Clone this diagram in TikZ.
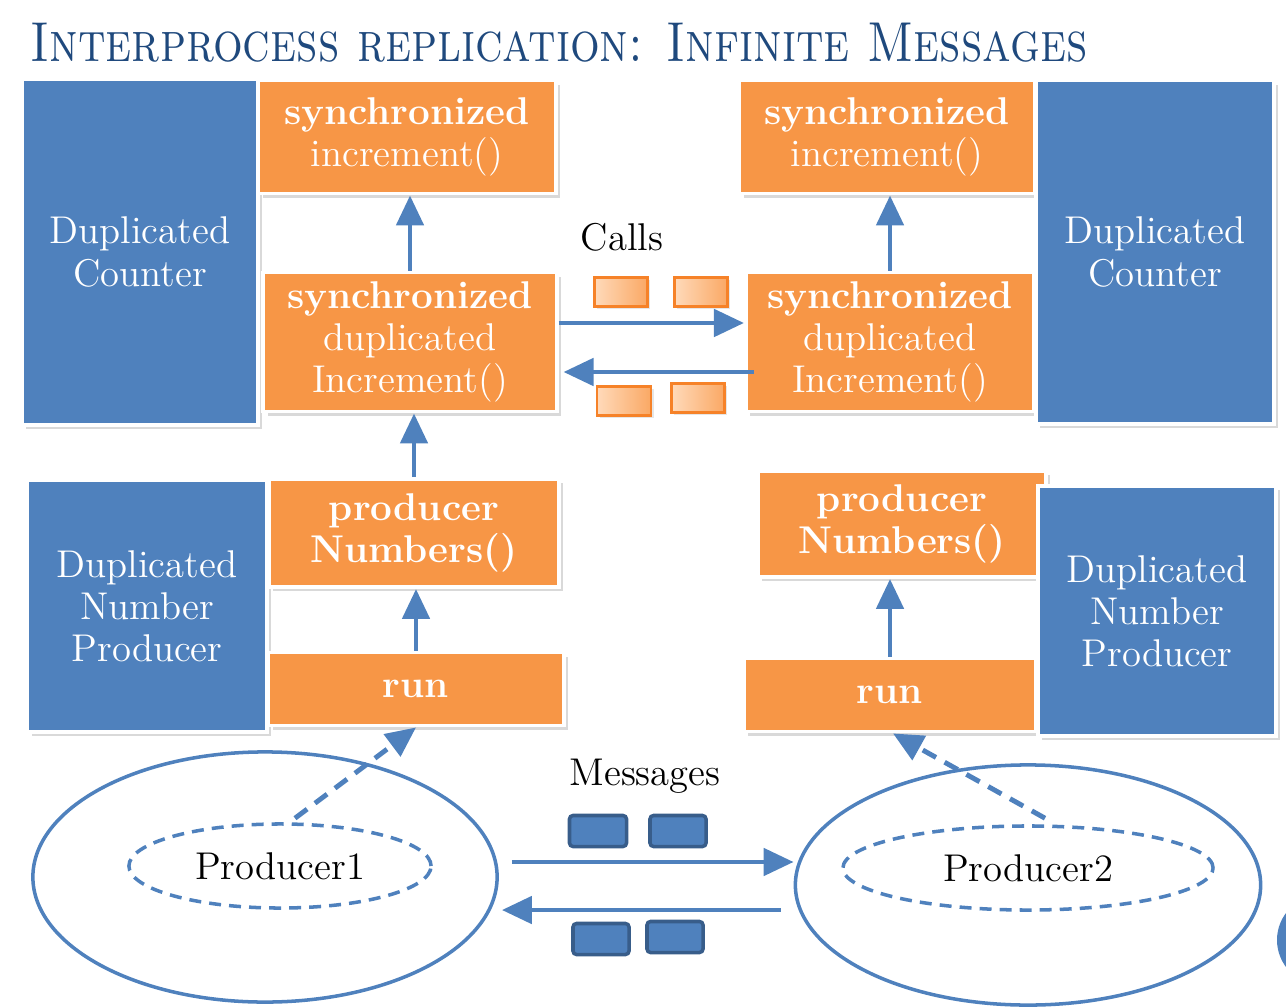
\documentclass[tikz,border=0pt]{standalone}
\usetikzlibrary{arrows.meta,shapes.geometric,shadows}
\usepackage{xcolor}
\definecolor{counterBlue}{RGB}{79,129,189}
\definecolor{methodOrange}{RGB}{247,150,70}
\definecolor{msgEdge}{RGB}{56,93,138}
\definecolor{titleBlue}{RGB}{31,73,125}
\definecolor{callLight}{RGB}{255,218,186}
\definecolor{callDark}{RGB}{250,168,100}
\definecolor{callEdge}{RGB}{246,130,40}
\tikzset{
    every node/.append style={align=center},
    panel/.style={rectangle,draw=white,line width=1.1pt,text=white,inner sep=2pt,
        font=\fontsize{11}{12}\selectfont,
        drop shadow={opacity=0.3,shadow xshift=1.2pt,shadow yshift=-1.2pt}},
    cbox/.style={panel,fill=counterBlue},
    mbox/.style={panel,fill=methodOrange},
    arr/.style={-{Triangle[length=3mm,width=2.7mm]},line width=1.4pt,draw=counterBlue},
    darr/.style={arr,dash pattern=on 4.3pt off 2.8pt},
    proc/.style={ellipse,draw=counterBlue,line width=1pt,inner sep=0pt},
    thread/.style={ellipse,draw=counterBlue,line width=1pt,dash pattern=on 3.4pt off 2.3pt,
        inner sep=0pt,font=\fontsize{11}{12}\selectfont},
    callmsg/.style={rectangle,draw=callEdge,line width=0.8pt,left color=callLight,right color=callDark,
        minimum width=0.53cm,minimum height=0.29cm,inner sep=0pt,
        drop shadow={opacity=0.2,shadow xshift=0.8pt,shadow yshift=-0.8pt}},
    datamsg/.style={rectangle,rounded corners=1pt,draw=msgEdge,line width=1pt,fill=counterBlue,
        minimum width=0.56cm,minimum height=0.31cm,inner sep=0pt},
    lbl/.style={font=\fontsize{11}{12}\selectfont}
}

\begin{document}
\begin{tikzpicture}[x=0.01cm,y=-0.01cm]
    \useasboundingbox (0,0) rectangle (1286,1007);

    \node[anchor=base west,text=titleBlue,inner sep=0pt,font=\fontsize{16}{19}\selectfont\scshape] (title) at (30,62)
        {\scalebox{0.83}[1]{Interprocess replication: Infinite Messages}};

    % counters and their synchronized methods
    \node[cbox,minimum width=2.36cm,minimum height=3.45cm] (cnt1) at (140,252) {Duplicated\\Counter};
    \node[mbox,minimum width=2.97cm,minimum height=1.13cm] (inc1) at (407,137) {\textbf{synchronized}\\increment()};
    \node[mbox,minimum width=2.93cm,minimum height=1.39cm] (sdup1) at (410,342) {\textbf{synchronized}\\duplicated\\Increment()};
    \node[mbox,minimum width=2.95cm,minimum height=1.13cm] (inc2) at (887,137) {\textbf{synchronized}\\increment()};
    \node[mbox,minimum width=2.88cm,minimum height=1.39cm] (sdup2) at (890,342) {\textbf{synchronized}\\duplicated\\Increment()};
    \node[cbox,minimum width=2.38cm,minimum height=3.43cm] (cnt2) at (1155,252) {Duplicated\\Counter};

    % number producers
    \node[cbox,minimum width=2.39cm,minimum height=2.51cm] (np1) at (147,606) {Duplicated\\Number\\Producer};
    \node[mbox,minimum width=2.90cm,minimum height=1.08cm] (prod1) at (414,533) {\textbf{producer}\\\textbf{Numbers()}};
    \node[mbox,minimum width=2.95cm,minimum height=0.73cm] (run1) at (416,689) {\textbf{run}};
    \node[mbox,minimum width=2.88cm,minimum height=1.06cm] (prod2) at (902,524) {\textbf{producer}\\\textbf{Numbers()}};
    \node[mbox,minimum width=2.92cm,minimum height=0.73cm] (run2) at (890,695) {\textbf{run}};
    \node[cbox,minimum width=2.38cm,minimum height=2.50cm] (np2) at (1157,611) {Duplicated\\Number\\Producer};

    % processes
    \node[proc,minimum width=4.64cm,minimum height=2.50cm] (p1) at (265,877) {};
    \node[proc,minimum width=4.65cm,minimum height=2.40cm] (p2) at (1028,885) {};
    \node[thread,minimum width=3.02cm,minimum height=0.84cm] (t1) at (280,866) {Producer1};
    \node[thread,minimum width=3.70cm,minimum height=0.84cm] (t2) at (1028,868) {Producer2};
    \fill[counterBlue] (1322,940) circle (0.45cm);

    % labels and message blocks
    \node[lbl] (calls) at (622,237) {Calls};
    \node[lbl] (msgs) at (645,776) {Messages};
    \node[callmsg] (c1) at (621,292) {};
    \node[callmsg] (c2) at (701,292) {};
    \node[callmsg,minimum width=0.54cm] (c3) at (624,401) {};
    \node[callmsg] (c4) at (698,398) {};
    \node[datamsg,minimum width=0.57cm] (m1) at (598,831) {};
    \node[datamsg] (m2) at (678,831) {};
    \node[datamsg] (m3) at (601,939) {};
    \node[datamsg] (m4) at (675,937) {};

    \draw[arr] (sdup1.north) -- (sdup1.north |- inc1.south);
    \draw[arr] (prod1.north) -- (prod1.north |- sdup1.south);
    \draw[arr] (run1.north) -- (run1.north |- prod1.south);
    \draw[arr] (sdup2.north) -- (sdup2.north |- inc2.south);
    \draw[arr] (run2.north) -- (run2.north |- prod2.south);

    \draw[arr] ([yshift=1.9mm]sdup1.east) -- ([yshift=1.9mm]sdup1.east -| sdup2.west);
    \draw[arr] ([xshift=1mm,yshift=-3mm]sdup2.west) -- ([xshift=0.5mm,yshift=-3mm]sdup2.west -| sdup1.east);

    \draw[arr] ([xshift=1.3mm,yshift=1.5mm]p1.east) -- ([yshift=1.5mm]p1.east -| p2.west);
    \draw[arr] ([xshift=-1.3mm,yshift=-3.3mm]p1.east -| p2.west) -- ([xshift=0.3mm,yshift=-3.3mm]p1.east);

    \draw[darr] ([xshift=1.5mm,yshift=0.4mm]t1.north) -- (run1.south);
    \draw[darr] ([xshift=1.7mm,yshift=0.6mm]t2.north) -- ([xshift=0.3mm]run2.south);
\end{tikzpicture}
\end{document}
